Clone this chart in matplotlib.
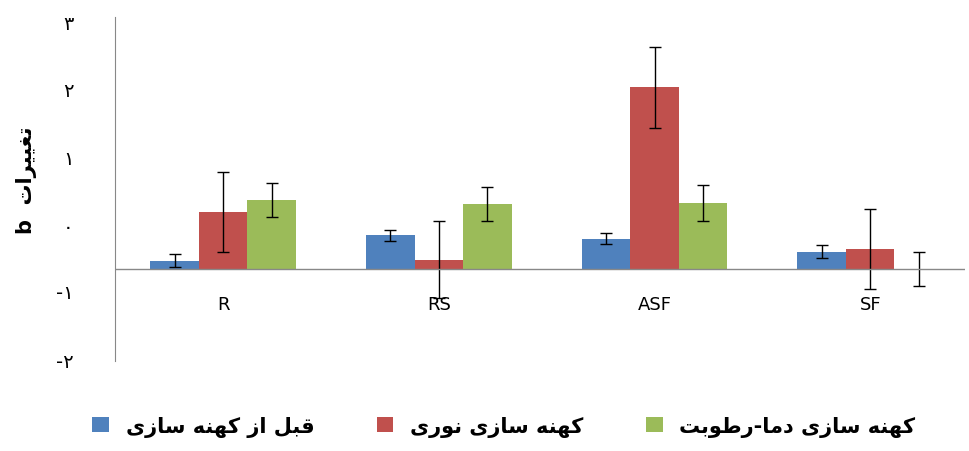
import matplotlib
matplotlib.use("Agg")
import matplotlib.pyplot as plt
import numpy as np

F = {'ب':(0xFE8F,0xFE90,0xFE91,0xFE92),'ت':(0xFE95,0xFE96,0xFE97,0xFE98),'ق':(0xFED5,0xFED6,0xFED7,0xFED8),
     'ل':(0xFEDD,0xFEDE,0xFEDF,0xFEE0),'ا':(0xFE8D,0xFE8E),'ز':(0xFEAF,0xFEB0),'ر':(0xFEAD,0xFEAE),
     'د':(0xFEA9,0xFEAA),'و':(0xFEED,0xFEEE),'ک':(0xFB8E,0xFB8F,0xFB90,0xFB91),'ه':(0xFEE9,0xFEEA,0xFEEB,0xFEEC),
     'ن':(0xFEE5,0xFEE6,0xFEE7,0xFEE8),'س':(0xFEB1,0xFEB2,0xFEB3,0xFEB4),'ی':(0xFBFC,0xFBFD,0xFBFE,0xFBFF),
     'ط':(0xFEC1,0xFEC2,0xFEC3,0xFEC4),'م':(0xFEE1,0xFEE2,0xFEE3,0xFEE4),'غ':(0xFECD,0xFECE,0xFECF,0xFED0)}
def shape(s):
    out = []
    for i, c in enumerate(s):
        if c not in F:
            out.append(c); continue
        f = F[c]
        prev = s[i-1] if i > 0 else ''
        nxt = s[i+1] if i+1 < len(s) else ''
        jp = prev in F and len(F[prev]) == 4
        jn = nxt in F and len(f) == 4
        if jp and jn: k = 3
        elif jp: k = 1
        elif jn: k = 2
        else: k = 0
        out.append(chr(f[k]))
    return ''.join(out)[::-1]

categories = ["R", "RS", "ASF", "SF"]
series = ["قبل از کهنه سازی", "کهنه سازی نوری", "کهنه سازی دما-رطوبت"]
colors = ["#4F81BD", "#C0504D", "#9BBB59"]
values = [[0.12, 0.49, 0.44, 0.25],
          [0.84, 0.13, 2.68, 0.29],
          [1.01, 0.96, 0.97, 0.0]]
errors = [[0.10, 0.08, 0.08, 0.10],
          [0.59, 0.57, 0.60, 0.59],
          [0.25, 0.25, 0.26, 0.25]]
tick_labels = ["-۲", "-۱", "۰", "۱", "۲", "۳"]
tick_pos = [-1.34, -0.32, 0.66, 1.66, 2.66, 3.66]

fig = plt.figure(figsize=(9.69, 4.52), dpi=100)
ax = fig.add_axes([0.119, 0.2, 0.877, 0.76])
x = np.arange(len(categories))
w = 0.225
for i in range(3):
    ax.bar(x + (i-1)*w, values[i], w, color=colors[i], label=shape(series[i]),
           yerr=errors[i], capsize=4, error_kw=dict(elinewidth=1, capthick=1, ecolor='black'))
ax.set_xlim(-0.5, 3.44)
ax.set_ylim(-1.36, 3.72)
ax.axhline(0, color='#888888', lw=1)
for s in ['top', 'right', 'bottom']:
    ax.spines[s].set_visible(False)
ax.spines['left'].set_color('#888888')
ax.set_xticks([])
for xi, c in zip(x, categories):
    ax.text(xi, -0.53, c, ha='center', va='center', fontsize=13)
ax.set_yticks(tick_pos)
ax.set_yticklabels(tick_labels, fontsize=14)
ax.tick_params(axis='y', length=0, pad=30)
fig.text(0.027, 0.6, "b  " + shape("تغییرات"), rotation=90, ha='center', va='center',
         fontsize=15, fontweight='bold')
fig.legend(loc='lower center', ncol=3, frameon=False, bbox_to_anchor=(0.52, -0.01),
           prop=dict(size=15, weight='bold'), handlelength=0.8, handleheight=0.8, columnspacing=3)
fig.savefig("out.png", dpi=100)
